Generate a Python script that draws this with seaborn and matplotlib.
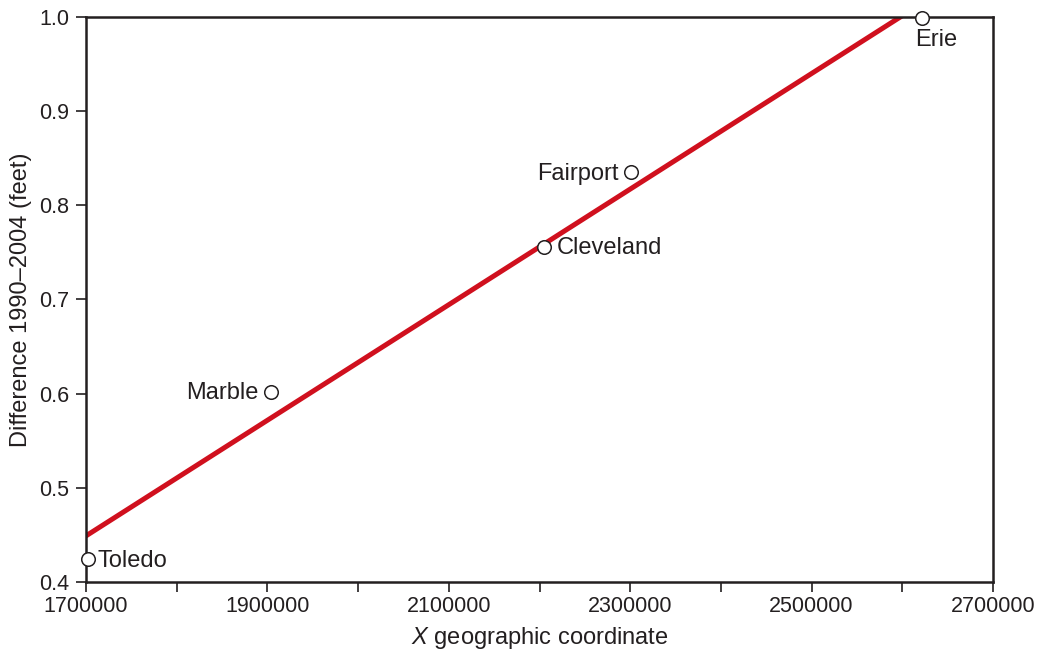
import numpy as np
import pandas as pd
import matplotlib
matplotlib.use('Agg')
import matplotlib.pyplot as plt
import seaborn as sns
from matplotlib.ticker import MultipleLocator, FixedLocator, FormatStrFormatter

# gauge stations along Lake Erie
stations = ['Toledo', 'Marble', 'Cleveland', 'Fairport', 'Erie']
x_coord = [1702200, 1904000, 2205000, 2301000, 2621700]
diff_ft = [0.424, 0.602, 0.756, 0.835, 0.999]
x_labels = [1700000, 1900000, 2100000, 2300000, 2500000, 2700000]

df = pd.DataFrame({'x': x_coord, 'diff': diff_ft, 'station': stations})

sns.set_style('white')
plt.rcParams['font.family'] = ['Liberation Sans', 'DejaVu Sans']
plt.rcParams['mathtext.fontset'] = 'custom'
plt.rcParams['mathtext.it'] = 'Liberation Sans:italic'
plt.rcParams['mathtext.rm'] = 'Liberation Sans'
ink = '#231f20'

fig = plt.figure(figsize=(10.38, 6.52), dpi=100)
ax = fig.add_axes([0.0829, 0.1074, 0.8737, 0.8665])

ax.set_xlim(1700000, 2700000)
ax.set_ylim(0.4, 1.0)

# least squares line
sns.regplot(data=df, x='x', y='diff', ax=ax, ci=None, scatter=False,
            truncate=False, line_kws={'color': '#d0101e', 'lw': 3.6, 'zorder': 2})

sns.scatterplot(data=df, x='x', y='diff', ax=ax, s=95, color='white',
                edgecolor=ink, linewidth=1.1, zorder=5, clip_on=False)

# label placement per station (offsets in points)
offsets = {'Toledo': (7, -1, 'left'),
           'Marble': (-9, -1, 'right'),
           'Cleveland': (9, -1, 'left'),
           'Fairport': (-9, -1, 'right'),
           'Erie': (-5, -16, 'left')}
for st, xv, yv in zip(stations, x_coord, diff_ft):
    dx, dy, ha = offsets[st]
    ax.annotate(st, (xv, yv), xytext=(dx, dy), textcoords='offset points',
                ha=ha, va='center', fontsize=17, color=ink)

ax.set_xlim(1700000, 2700000)
ax.set_ylim(0.4, 1.0)
ax.xaxis.set_major_locator(FixedLocator(x_labels))
ax.set_xticklabels([str(v) for v in x_labels])
ax.xaxis.set_minor_locator(MultipleLocator(100000))
ax.yaxis.set_major_locator(MultipleLocator(0.1))
ax.yaxis.set_major_formatter(FormatStrFormatter('%.1f'))
ax.tick_params(which='both', direction='out', length=7, width=1.2,
               color=ink, labelsize=15.5, labelcolor=ink,
               bottom=True, left=True)
ax.tick_params(axis='y', pad=5)
ax.tick_params(axis='x', pad=3)

for sp in ax.spines.values():
    sp.set_color(ink)
    sp.set_linewidth(1.8)

ax.set_xlabel('$\\mathit{X}$ geographic coordinate', fontsize=17, color=ink, labelpad=6)
ax.set_ylabel('Difference 1990\u20132004 (feet)', fontsize=17, color=ink, labelpad=5)

fig.savefig('out.png', dpi=100)
